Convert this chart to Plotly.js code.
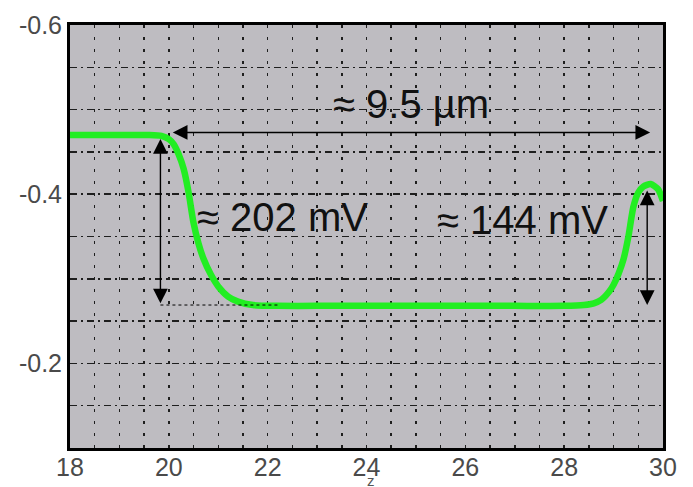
<!DOCTYPE html>
<html>
<head>
<meta charset="utf-8">
<script src="https://cdn.plot.ly/plotly-3.0.1.min.js"></script>
<style>
html,body{margin:0;padding:0;background:#fff;}
#chart{width:693px;height:487px;}
</style>
</head>
<body>
<div id="chart"></div>
<script>
// Potential profile (green trace)
var profileX = [18, 19.0, 19.6, 19.85, 20.0, 20.1, 20.2, 20.3, 20.4, 20.5, 20.6, 20.7, 20.85, 21.0, 21.2, 21.4, 21.7, 22.2,
                23, 24, 25, 26, 27, 28, 28.4, 28.6, 28.75, 28.9, 29.0, 29.1, 29.2, 29.3, 29.4, 29.5, 29.6, 29.75, 29.9, 30.0];
var profileY = [-0.47, -0.47, -0.47, -0.469, -0.465, -0.459, -0.447, -0.43, -0.402, -0.366, -0.342, -0.324, -0.305, -0.291, -0.279, -0.273, -0.269, -0.268,
                -0.268, -0.268, -0.268, -0.268, -0.268, -0.268, -0.269, -0.271, -0.275, -0.284, -0.293, -0.306, -0.323, -0.35, -0.385, -0.402, -0.409, -0.412, -0.406, -0.392];

// Axis ticks
var xTickVals = [18, 20, 22, 24, 26, 28, 30];
var xTickLabels = ['18', '20', '22', '24', '26', '28', '30'];
var yTickVals = [-0.6, -0.4, -0.2];
var yTickLabels = ['-0.6', '-0.4', '-0.2'];

// Measurement arrows: [x0, y0, x1, y1]
var widthArrow = [20.05, -0.473, 29.74, -0.473];
var leftDropArrow = [19.83, -0.467, 19.83, -0.271];
var rightRiseArrow = [29.68, -0.406, 29.68, -0.269];
var baselineDotted = [19.83, -0.269, 22.25, -0.269];

// Labels: text, x, y
var labelTexts = ['\u2248 9.5 \u00b5m', '\u2248 202 mV', '\u2248 144 mV'];
var labelX = [24.9, 22.29, 27.15];
var labelY = [-0.507, -0.373, -0.37];

var FONT = 'Liberation Sans, Arial, Helvetica, sans-serif';

function arrowAnn(a) {
  return {
    x: a[2], y: a[3], ax: a[0], ay: a[1],
    xref: 'x', yref: 'y', axref: 'x', ayref: 'y',
    showarrow: true, text: '',
    arrowhead: 2, startarrowhead: 2, arrowside: 'end+start',
    arrowsize: 2.1, startarrowsize: 2.1, arrowwidth: 1.4,
    arrowcolor: '#000', standoff: 0, startstandoff: 0
  };
}

var annotations = [arrowAnn(widthArrow), arrowAnn(leftDropArrow), arrowAnn(rightRiseArrow)];
for (var i = 0; i < labelTexts.length; i++) {
  annotations.push({
    x: labelX[i], y: labelY[i], xref: 'x', yref: 'y',
    text: labelTexts[i], showarrow: false,
    font: {family: FONT, size: 40, color: '#111'},
    xanchor: 'center', yanchor: 'middle'
  });
}
annotations.push({
  x: 24.1, y: -0.052, xref: 'x', yref: 'paper',
  text: 'z', showarrow: false, xanchor: 'center', yanchor: 'top',
  font: {family: FONT, size: 15, color: '#555'}
});

var trace = {
  x: profileX, y: profileY, type: 'scatter', mode: 'lines',
  line: {color: '#22ee22', width: 6.5, shape: 'spline', smoothing: 0.6},
  hoverinfo: 'skip'
};

var gridCol = '#1e1e1e';
var layout = {
  width: 693, height: 487,
  margin: {l: 70, r: 30, t: 25, b: 39},
  paper_bgcolor: '#ffffff',
  plot_bgcolor: '#bebcc1',
  showlegend: false,
  font: {family: FONT},
  xaxis: {
    range: [18, 30],
    tickmode: 'array', tickvals: xTickVals, ticktext: xTickLabels,
    tickfont: {family: FONT, size: 25, color: '#4a4a4a'},
    ticklabelstandoff: -5,
    showgrid: true, gridcolor: gridCol, gridwidth: 1.5, griddash: '3px,9px',
    minor: {dtick: 0.5, tick0: 18, showgrid: true, gridcolor: gridCol, gridwidth: 1.5, griddash: '3px,9px'},
    showline: true, linecolor: '#000', linewidth: 3, mirror: true,
    ticks: '', zeroline: false
  },
  yaxis: {
    range: [-0.1, -0.6],
    tickmode: 'array', tickvals: yTickVals, ticktext: yTickLabels,
    tickfont: {family: FONT, size: 25, color: '#4a4a4a'},
    showgrid: true, gridcolor: gridCol, gridwidth: 1.5, griddash: '7px,4px,2px,4px',
    minor: {dtick: 0.05, tick0: -0.6, showgrid: true, gridcolor: gridCol, gridwidth: 1.5, griddash: '7px,4px,2px,4px'},
    showline: true, linecolor: '#000', linewidth: 3, mirror: true,
    ticks: '', zeroline: false
  },
  shapes: [{
    type: 'line', xref: 'x', yref: 'y',
    x0: baselineDotted[0], y0: baselineDotted[1], x1: baselineDotted[2], y1: baselineDotted[3],
    line: {color: '#000', width: 1, dash: 'dot'}
  }],
  annotations: annotations
};

Plotly.newPlot('chart', [trace], layout, {displayModeBar: false, staticPlot: true});
</script>
</body>
</html>
